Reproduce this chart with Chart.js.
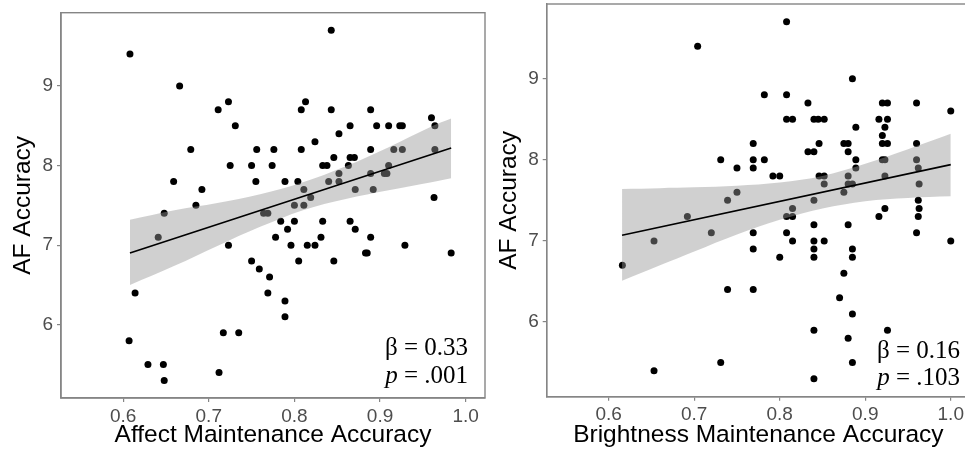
<!DOCTYPE html>
<html>
<head>
<meta charset="utf-8">
<script src="https://cdn.jsdelivr.net/npm/chart.js@4.4.1/dist/chart.umd.min.js"></script>
<style>
    html, body { margin: 0; padding: 0; background: #fff; overflow: hidden; }
    #wrap { position: relative; width: 965px; height: 451px; overflow: hidden; }
    #wrap canvas { position: absolute; top: 0; }
    #leftChart { left: 0; }
    #rightChart { left: 480px; }
</style>
</head>
<body>
<div id="wrap">
    <canvas id="leftChart" width="490" height="451"></canvas>
    <canvas id="rightChart" width="500" height="451"></canvas>
</div>
<script>
// ===================
// data
// ===================

const xTickValues = [0.6, 0.7, 0.8, 0.9, 1.0];
const xTickLabels = ['0.6', '0.7', '0.8', '0.9', '1.0'];
const yTickValues = [6, 7, 8, 9];
const yTickLabels = ['6', '7', '8', '9'];

// Affect Maintenance Accuracy vs AF Accuracy
const affectX = [
    0.608, 0.666, 0.711, 0.723, 0.731, 0.679, 0.725, 0.659, 0.692, 0.685,
    0.648, 0.641, 0.723, 0.614, 0.607, 0.629, 0.647, 0.648, 0.712, 0.717,
    0.735, 0.750, 0.759, 0.771, 0.769, 0.789, 0.789, 0.750, 0.756, 0.755,
    0.774, 0.776, 0.764, 0.769, 0.778, 0.784, 0.789, 0.792, 0.796, 0.800,
    0.800, 0.804, 0.805, 0.808, 0.808, 0.813, 0.811, 0.811, 0.815, 0.819,
    0.824, 0.824, 0.831, 0.833, 0.833, 0.838, 0.840, 0.843, 0.843, 0.846,
    0.846, 0.852, 0.852, 0.852, 0.863, 0.865, 0.865, 0.870, 0.871, 0.865,
    0.871, 0.883, 0.885, 0.889, 0.889, 0.889, 0.892, 0.889, 0.896, 0.905,
    0.908, 0.910, 0.910, 0.916, 0.923, 0.926, 0.926, 0.929, 0.960, 0.964,
    0.964, 0.963, 0.983
];
const affectY = [
    9.4, 9.0, 8.7, 8.8, 8.5, 8.2, 8.0, 7.8, 7.7, 7.5,
    7.4, 7.1, 7.0, 6.4, 5.8, 5.5, 5.5, 5.3, 5.4, 5.9,
    5.9, 6.8, 6.7, 6.6, 6.4, 6.3, 6.1, 8.0, 8.2, 7.8,
    8.0, 8.2, 7.4, 7.4, 7.1, 7.3, 7.8, 7.2, 7.0, 7.3,
    7.5, 7.8, 6.8, 8.2, 8.7, 8.8, 7.7, 7.5, 7.0, 7.6,
    7.0, 8.3, 7.1, 7.3, 8.0, 8.0, 7.8, 9.7, 8.7, 8.1,
    6.8, 8.4, 7.9, 7.8, 8.0, 8.5, 8.1, 8.1, 7.7, 7.3,
    7.2, 6.9, 6.9, 8.7, 8.2, 7.9, 7.7, 7.1, 8.5, 7.9,
    7.9, 8.5, 8.0, 8.2, 8.5, 8.5, 8.2, 7.0, 8.6, 8.5,
    8.2, 7.6, 6.9
];
const affectLineX = [0.608, 0.983];
const affectLineY = [6.90, 8.22];
const affectBandX = [0.608, 0.66, 0.71, 0.76, 0.81, 0.86, 0.91, 0.96, 0.983];
const affectBandUpper = [7.32, 7.44, 7.53, 7.64, 7.79, 7.99, 8.23, 8.49, 8.59];
const affectBandLower = [6.50, 6.74, 6.99, 7.23, 7.44, 7.58, 7.69, 7.79, 7.84];
const affectStats = ['0.33', '.001'];

// Brightness Maintenance Accuracy vs AF Accuracy
const brightX = [
    0.616, 0.653, 0.653, 0.692, 0.704, 0.720, 0.731, 0.731, 0.739, 0.739,
    0.750, 0.750, 0.769, 0.769, 0.769, 0.769, 0.769, 0.769, 0.782, 0.782,
    0.792, 0.800, 0.800, 0.808, 0.808, 0.808, 0.815, 0.808, 0.815, 0.815,
    0.808, 0.815, 0.833, 0.833, 0.840, 0.840, 0.845, 0.852, 0.846, 0.846,
    0.852, 0.852, 0.840, 0.840, 0.840, 0.840, 0.840, 0.852, 0.840, 0.840,
    0.875, 0.880, 0.880, 0.880, 0.875, 0.880, 0.885, 0.885, 0.889, 0.889,
    0.889, 0.880, 0.885, 0.885, 0.875, 0.870, 0.885, 0.880, 0.885, 0.916,
    0.920, 0.926, 0.920, 0.923, 0.926, 0.920, 0.926, 0.920, 0.923, 0.923,
    0.923, 0.916, 0.926, 0.960, 0.960, 0.960, 0.962, 0.963, 0.962, 0.963,
    0.962, 0.960, 1.000, 1.000
];
const brightY = [
    6.7, 7.0, 5.4, 7.3, 9.4, 7.1, 8.0, 5.5, 7.5, 6.4,
    7.9, 7.6, 8.2, 8.0, 7.9, 7.1, 6.9, 6.4, 8.8, 8.0,
    7.8, 7.8, 6.8, 9.7, 8.8, 8.5, 8.5, 7.3, 7.3, 7.4,
    7.1, 7.0, 8.7, 8.1, 8.1, 8.5, 8.5, 8.5, 8.2, 7.8,
    7.8, 7.7, 7.5, 7.2, 7.0, 6.9, 6.8, 7.0, 5.9, 5.3,
    8.2, 8.2, 8.1, 7.8, 7.6, 7.7, 7.7, 9.0, 8.4, 8.0,
    7.9, 7.2, 6.9, 6.8, 6.6, 6.3, 6.1, 5.8, 5.5, 8.5,
    8.7, 8.7, 8.3, 8.4, 8.5, 8.2, 8.2, 8.0, 8.0, 7.8,
    7.4, 7.3, 5.9, 8.7, 8.2, 8.0, 7.9, 7.7, 7.5, 7.4,
    7.3, 7.1, 8.6, 7.0
];
const brightLineX = [0.6156, 1.0];
const brightLineY = [7.07, 7.94];
const brightBandX = [0.6156, 0.66, 0.70, 0.75, 0.80, 0.85, 0.90, 0.95, 1.0];
const brightBandUpper = [7.64, 7.65, 7.66, 7.68, 7.72, 7.80, 7.95, 8.13, 8.32];
const brightBandLower = [6.51, 6.70, 6.87, 7.08, 7.26, 7.40, 7.49, 7.53, 7.55];
const brightStats = ['0.16', '.103'];

// ===================
// styles
// ===================

const AXIS_GRAY = '#858585';
const TICK_TEXT = '#4d4d4d';
const BAND_FILL = 'rgba(150, 150, 150, 0.45)';
const SANS = "'Liberation Sans', Arial, sans-serif";
const SERIF = "'Liberation Serif', 'Times New Roman', serif";

Chart.defaults.font.family = SANS;

const toXY = (xs, ys) => xs.map((x, i) => ({ x: x, y: ys[i] }));

// 枠線 (ggplot の panel.border 相当)
const panelBorder = {
    id: 'panelBorder',
    afterDraw(chart) {
        const { ctx, chartArea: a } = chart;
        ctx.save();
        ctx.strokeStyle = AXIS_GRAY;
        ctx.lineWidth = 1.4;
        ctx.strokeRect(a.left, a.top, a.right - a.left, a.bottom - a.top);
        ctx.restore();
    }
};

// β / p の注記
const statLabel = {
    id: 'statLabel',
    afterDatasetsDraw(chart, args, opts) {
        const { ctx, chartArea: a } = chart;
        const right = a.right - opts.dx;
        ctx.save();
        ctx.fillStyle = '#000';
        ctx.textAlign = 'right';
        ctx.textBaseline = 'alphabetic';
        ctx.font = `25px ${SERIF}`;
        ctx.fillText('\u03b2 = ' + opts.beta, right, a.bottom - opts.dy1);
        const rest = ' = ' + opts.p;
        ctx.fillText(rest, right, a.bottom - opts.dy2);
        const w = ctx.measureText(rest).width;
        ctx.font = `italic 25px ${SERIF}`;
        ctx.fillText('p', right - w, a.bottom - opts.dy2);
        ctx.restore();
    }
};

function renderPanel(canvasId, cfg) {
    const ctx = document.getElementById(canvasId);

    return new Chart(ctx, {
        type: 'scatter',
        data: {
            datasets: [
                {
                    label: 'points',
                    data: toXY(cfg.xs, cfg.ys),
                    pointRadius: 3.5,
                    pointBackgroundColor: '#000',
                    pointBorderWidth: 0,
                    order: 3
                },
                {
                    label: 'ci upper',
                    data: toXY(cfg.bandX, cfg.bandUpper),
                    showLine: true,
                    pointRadius: 0,
                    borderWidth: 0,
                    borderColor: 'rgba(0,0,0,0)',
                    backgroundColor: BAND_FILL,
                    fill: '+1',
                    tension: 0.35,
                    order: 1
                },
                {
                    label: 'ci lower',
                    data: toXY(cfg.bandX, cfg.bandLower),
                    showLine: true,
                    pointRadius: 0,
                    borderWidth: 0,
                    borderColor: 'rgba(0,0,0,0)',
                    fill: false,
                    tension: 0.35,
                    order: 2
                },
                {
                    label: 'fit',
                    data: toXY(cfg.lineX, cfg.lineY),
                    showLine: true,
                    pointRadius: 0,
                    borderColor: '#000',
                    borderWidth: 1.6,
                    fill: false,
                    order: 0
                }
            ]
        },
        options: {
            responsive: false,
            animation: false,
            events: [],
            layout: { padding: cfg.padding },
            plugins: {
                legend: { display: false },
                tooltip: { enabled: false },
                statLabel: cfg.stat
            },
            scales: {
                x: {
                    type: 'linear',
                    min: 0.5275,
                    max: 1.0225,
                    afterBuildTicks: s => { s.ticks = xTickValues.map(v => ({ value: v })); },
                    afterFit: s => {
                        s.height = cfg.xAxisHeight;
                        s.paddingLeft = 0;
                        s.paddingRight = 0;
                    },
                    ticks: {
                        color: TICK_TEXT,
                        font: { size: 19 },
                        padding: 3,
                        maxRotation: 0,
                        callback: (v, i) => xTickLabels[i]
                    },
                    grid: { drawOnChartArea: false, drawTicks: true, tickLength: 4, color: AXIS_GRAY, lineWidth: 1.2 },
                    border: { display: true, color: AXIS_GRAY, width: 1.4 },
                    title: {
                        display: true,
                        text: cfg.xTitle,
                        color: '#000',
                        font: { size: 24.5 },
                        padding: { top: 0, bottom: 0.6 }
                    }
                },
                y: {
                    type: 'linear',
                    min: 5.08,
                    max: 9.92,
                    afterBuildTicks: s => { s.ticks = yTickValues.map(v => ({ value: v })); },
                    afterFit: s => {
                        s.width = cfg.yAxisWidth;
                        s.paddingTop = 0;
                        s.paddingBottom = 0;
                    },
                    ticks: {
                        color: TICK_TEXT,
                        font: { size: 19 },
                        padding: 4,
                        callback: (v, i) => yTickLabels[i]
                    },
                    grid: { drawOnChartArea: false, drawTicks: true, tickLength: 4, color: AXIS_GRAY, lineWidth: 1.2 },
                    border: { display: true, color: AXIS_GRAY, width: 1.4 },
                    title: {
                        display: true,
                        text: 'AF Accuracy',
                        color: '#000',
                        font: { size: 24.5 },
                        padding: { top: cfg.yTitlePad, bottom: 0 }
                    }
                }
            }
        },
        plugins: [panelBorder, statLabel]
    });
}

renderPanel('leftChart', {
    xs: affectX, ys: affectY,
    lineX: affectLineX, lineY: affectLineY,
    bandX: affectBandX, bandUpper: affectBandUpper, bandLower: affectBandLower,
    xTitle: 'Affect Maintenance Accuracy',
    padding: { top: 12.7, right: 5, left: 0, bottom: 0 },
    xAxisHeight: 53,
    yAxisWidth: 61,
    yTitlePad: 8.4,
    stat: { beta: affectStats[0], p: affectStats[1], dx: 17, dy1: 43, dy2: 15 }
});

renderPanel('rightChart', {
    xs: brightX, ys: brightY,
    lineX: brightLineX, lineY: brightLineY,
    bandX: brightBandX, bandUpper: brightBandUpper, bandLower: brightBandLower,
    xTitle: 'Brightness Maintenance Accuracy',
    padding: { top: 4, right: 10, left: 0, bottom: 0 },
    xAxisHeight: 54.3,
    yAxisWidth: 66.7,
    yTitlePad: 14.8,
    stat: { beta: brightStats[0], p: brightStats[1], dx: 10, dy1: 38.7, dy2: 11.7 }
});
</script>
</body>
</html>
